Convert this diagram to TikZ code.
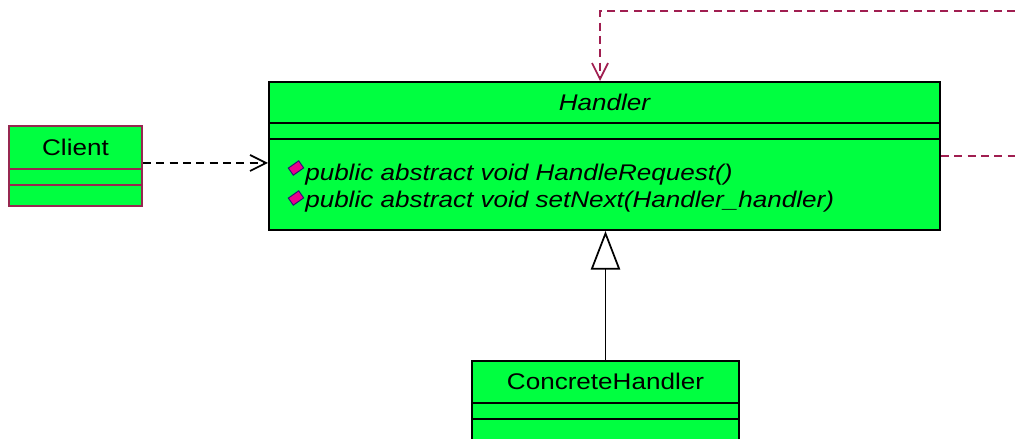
\documentclass[tikz,border=0pt]{standalone}
\usepackage{fontspec}
\setmainfont{Liberation Sans}[FakeStretch=1.15]
\usetikzlibrary{arrows.meta, calc}
\definecolor{umlgreen}{RGB}{0,255,64}
\definecolor{linkred}{RGB}{160,30,80}
\definecolor{clientred}{RGB}{150,40,80}
\definecolor{markblue}{RGB}{40,20,120}

\begin{document}
\begin{tikzpicture}[x=0.75pt, y=0.75pt,
        classbox/.style={draw, fill=umlgreen, line width=1.5pt, anchor=north west, inner sep=0pt},
        classname/.style={font=\fontsize{17}{20}\selectfont, inner sep=0pt},
        method/.style={font=\fontsize{17}{20}\selectfont\itshape, anchor=base west, inner sep=0pt},
        opmark/.style={draw=markblue, fill=magenta, rotate=35, minimum width=9.5pt, minimum height=6.5pt, inner sep=0pt, line width=0.7pt},
        dep/.style={line width=1.3pt, dash pattern=on 6pt off 4pt, -{Straight Barb[length=12pt, width=12pt]}}]
        \fill[white] (0,0) rectangle (1015,439);
        \useasboundingbox (0,0) rectangle (1015,439);
        \clip (0,0) rectangle (1015,439);

        % Classes
        \node[classbox, draw=clientred, minimum width=99.75pt, minimum height=60pt] (client) at (8,314) {};
        \node[classbox, minimum width=503.25pt, minimum height=111pt] (handler) at (268,358) {};
        \node[classbox, minimum width=200.25pt, minimum height=75pt] (concrete) at (471,79) {};

        \draw[clientred, line width=1.5pt] ($(client.north west)+(0,-44)$) -- ($(client.north east)+(0,-44)$);
        \draw[clientred, line width=1.5pt] ($(client.north west)+(0,-60)$) -- ($(client.north east)+(0,-60)$);
        \draw[line width=1.5pt] ($(handler.north west)+(0,-42)$) -- ($(handler.north east)+(0,-42)$);
        \draw[line width=1.5pt] ($(handler.north west)+(0,-58)$) -- ($(handler.north east)+(0,-58)$);
        \draw[line width=1.5pt] ($(concrete.north west)+(0,-43)$) -- ($(concrete.north east)+(0,-43)$);
        \draw[line width=1.5pt] ($(concrete.north west)+(0,-59)$) -- ($(concrete.north east)+(0,-59)$);

        \node[classname] (clientname) at ($(client.north)+(0,-22)$) {Client};
        \node[classname, font=\fontsize{17}{20}\selectfont\itshape] (handlername) at ($(handler.north)+(0,-21)$) {Handler};
        \node[classname] (concretename) at ($(concrete.north)+(0,-21.5)$) {ConcreteHandler};

        % Operations
        \node[opmark] (mark1) at ($(handler.north west)+(28,-87)$) {};
        \node[opmark] (mark2) at ($(handler.north west)+(28,-117)$) {};
        \node[method] (op1) at ($(handler.north west)+(37,-100)$) {public abstract void HandleRequest()};
        \node[method] (op2) at ($(handler.north west)+(37,-127)$) {public abstract void setNext(Handler\_handler)};

        % Links
        \coordinate (topfree) at (1015,428);
        \coordinate (rightfree) at (1015,284);
        \draw[dep] ([yshift=2.25pt]client.east) -- ([yshift=2.25pt]client.east -| handler.west);
        \draw[dep, linkred] (topfree) -| ($(handler.north)+(-4.5,0)$);
        \draw[linkred, line width=1.3pt, dash pattern=on 6pt off 4pt] (handler.east) -- (handler.east -| rightfree);
        \draw[line width=1.3pt, -{Triangle[open, length=29pt, width=22pt, fill=white]}] (concrete.north) -- (concrete.north |- handler.south);
\end{tikzpicture}
\end{document}
